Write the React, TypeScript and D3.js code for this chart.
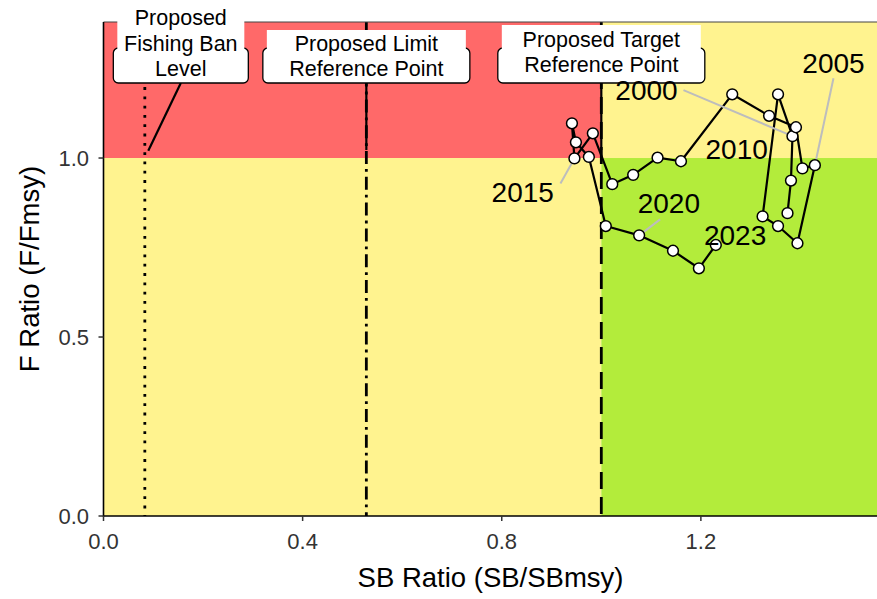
import React from "react";
import * as d3 from "d3";

// Kobe-style trajectory: spawning biomass ratio vs fishing mortality ratio
const years = [1998, 1999, 2000, 2001, 2002, 2003, 2004, 2005, 2006, 2007, 2008, 2009, 2010, 2011, 2012, 2013, 2014, 2015, 2016, 2017, 2018, 2019, 2020, 2021, 2022, 2023];
const sbRatio = [1.374, 1.381, 1.384, 1.355, 1.324, 1.355, 1.394, 1.429, 1.404, 1.391, 1.337, 1.263, 1.160, 1.113, 1.064, 1.022, 0.983, 0.946, 0.941, 0.949, 0.975, 1.009, 1.076, 1.144, 1.196, 1.230];
const fRatio = [0.846, 0.937, 1.061, 1.178, 0.837, 0.810, 0.762, 0.980, 0.971, 1.086, 1.118, 1.178, 0.991, 1.001, 0.953, 0.927, 1.069, 0.999, 1.097, 1.044, 1.003, 0.810, 0.784, 0.741, 0.692, 0.757];

// Reference points on the SB ratio axis
const refValues = [0.083, 0.528, 1.0];
const refNames = [
  ["Proposed", "Fishing Ban", "Level"],
  ["Proposed Limit", "Reference Point"],
  ["Proposed Target", "Reference Point"],
];
const refDash = ["2.8 6.5", "13 5 2.8 5", "17 8"];

const labelledYears = [2000, 2005, 2010, 2015, 2020, 2023];

const xTicks = [0, 0.4, 0.8, 1.2];
const yTicks = [0, 0.5, 1.0];

const W = 877;
const H = 599;
const FONT = "'Liberation Sans', Arial, sans-serif";

const RED = "#FF6969";
const YELLOW = "#FFF38F";
const GREEN = "#B3EC3B";

// placement of year labels relative to their point: baseline offset and optional leader end
const yearLabelOffsets: Record<number, { dx: number; dy: number; lead: [number, number] | null }> = {
  2000: { dx: -146, dy: -36, lead: [-109, -46] },
  2005: { dx: 18.6, dy: -92, lead: [18.6, -87] },
  2010: { dx: 55.7, dy: -2.6, lead: null },
  2015: { dx: -51.7, dy: 43.4, lead: [-14, 25] },
  2020: { dx: 29.7, dy: -22, lead: [21, -16] },
  2023: { dx: 19.3, dy: 0, lead: null },
};

export default function App() {
  const x = d3.scaleLinear().domain([0, 1.555]).range([103.5, 877.6]);
  const y = d3.scaleLinear().domain([0, 1.38]).range([516, 22]);
  const [x0, x1] = x.range();
  const [y0, y1] = y.range();

  const pts = years.map((yr, i) => ({ yr, px: x(sbRatio[i]), py: y(fRatio[i]) }));
  const line = d3.line<{ px: number; py: number }>().x((d) => d.px).y((d) => d.py);

  // label boxes for reference points
  const boxes = [
    { cx: x(refValues[0]) + 36, w: 135, whiteTop: 0, centers: [17, 43, 68] },
    { cx: x(refValues[1]), w: 207, whiteTop: 30, centers: [43, 68] },
    { cx: x(refValues[2]), w: 207, whiteTop: 25, centers: [39, 64] },
  ];
  const boxTop = 48;
  const boxBottom = 83;

  return (
    <svg width={W} height={H} style={{ position: "absolute", left: 0, top: 0, background: "#fff" }} fontFamily={FONT}>
      <defs>
        <clipPath id="panel">
          <rect x={x0} y={y1} width={x1 - x0} height={y0 - y1} />
        </clipPath>
      </defs>
      {/* status zones */}
      <g clipPath="url(#panel)">
        <rect x={x(0)} y={y1} width={x(1) - x(0)} height={y(1) - y1} fill={RED} />
        <rect x={x(1)} y={y1} width={x1 - x(1)} height={y(1) - y1} fill={YELLOW} />
        <rect x={x(0)} y={y(1)} width={x(1) - x(0)} height={y0 - y(1)} fill={YELLOW} />
        <rect x={x(1)} y={y(1)} width={x1 - x(1)} height={y0 - y(1)} fill={GREEN} />
        {refValues.map((v, i) => (
          <line key={i} x1={x(v)} x2={x(v)} y1={y1} y2={y0} stroke="#000" strokeWidth={2.8} strokeDasharray={refDash[i]} />
        ))}
      </g>

      {/* axes */}
      <line x1={x0} x2={x1} y1={y1} y2={y1} stroke="#444" strokeWidth={1.2} />
      <line x1={x0} x2={x0} y1={y1} y2={y0 + 0.75} stroke="#000" strokeWidth={1.6} />
      <line x1={x0} x2={x1} y1={y0} y2={y0} stroke="#000" strokeWidth={1.6} />
      {xTicks.map((t) => (
        <g key={t}>
          <line x1={x(t)} x2={x(t)} y1={y0} y2={y0 + 5} stroke="#333" strokeWidth={1.5} />
          <text x={x(t)} y={549} textAnchor="middle" fontSize={22} fill="#333">{d3.format(".1f")(t)}</text>
        </g>
      ))}
      {yTicks.map((t) => (
        <g key={t}>
          <line x1={x0 - 5} x2={x0} y1={y(t)} y2={y(t)} stroke="#333" strokeWidth={1.5} />
          <text x={89} y={y(t) + 8} textAnchor="end" fontSize={22} fill="#333">{d3.format(".1f")(t)}</text>
        </g>
      ))}
      <text x={(x0 + x1) / 2} y={587} textAnchor="middle" fontSize={27.5} fill="#000">SB Ratio (SB/SBmsy)</text>
      <text transform={`translate(39,${(y0 + y1) / 2}) rotate(-90)`} textAnchor="middle" fontSize={27.5} fill="#000">F Ratio (F/Fmsy)</text>

      {/* reference point labels */}
      {boxes.map((b, i) => {
        const tx = x(refValues[i]);
        const ty = y(1);
        const sx = b.cx;
        const sy = boxBottom;
        const len = Math.hypot(tx - sx, ty - sy);
        const ex = tx - ((tx - sx) / len) * 8;
        const ey = ty - ((ty - sy) / len) * 8;
        return (
          <g key={i}>
            <line x1={sx} y1={sy} x2={ex} y2={ey} stroke="#000" strokeWidth={2.2} />
            <rect x={b.cx - b.w / 2} y={boxTop} width={b.w} height={boxBottom - boxTop} rx={5} fill="#fff" stroke="#000" strokeWidth={1.3} />
            <rect x={b.cx - b.w / 2 + 4} y={b.whiteTop} width={b.w - 8} height={boxTop - b.whiteTop + 2} fill="#fff" />
            {refNames[i].map((s, j) => (
              <text key={j} x={b.cx} y={b.centers[j] + 7.7} textAnchor="middle" fontSize={21.5} fill="#000">{s}</text>
            ))}
          </g>
        );
      })}

      {/* trajectory */}
      <path d={line(pts) || ""} fill="none" stroke="#000" strokeWidth={2.2} strokeLinejoin="round" />

      {/* year label leaders */}
      {pts.filter((p) => labelledYears.includes(p.yr)).map((p) => {
        const o = yearLabelOffsets[p.yr];
        if (!o.lead) return null;
        return <line key={p.yr} x1={p.px} y1={p.py} x2={p.px + o.lead[0]} y2={p.py + o.lead[1]} stroke="#BDBDBD" strokeWidth={2} />;
      })}

      {pts.map((p) => (
        <circle key={p.yr} cx={p.px} cy={p.py} r={5.4} fill="#fff" stroke="#000" strokeWidth={1.5} />
      ))}

      {pts.filter((p) => labelledYears.includes(p.yr)).map((p) => {
        const o = yearLabelOffsets[p.yr];
        return (
          <text key={p.yr} x={p.px + o.dx} y={p.py + o.dy} textAnchor="middle" fontSize={28} fill="#000">{p.yr}</text>
        );
      })}
    </svg>
  );
}
